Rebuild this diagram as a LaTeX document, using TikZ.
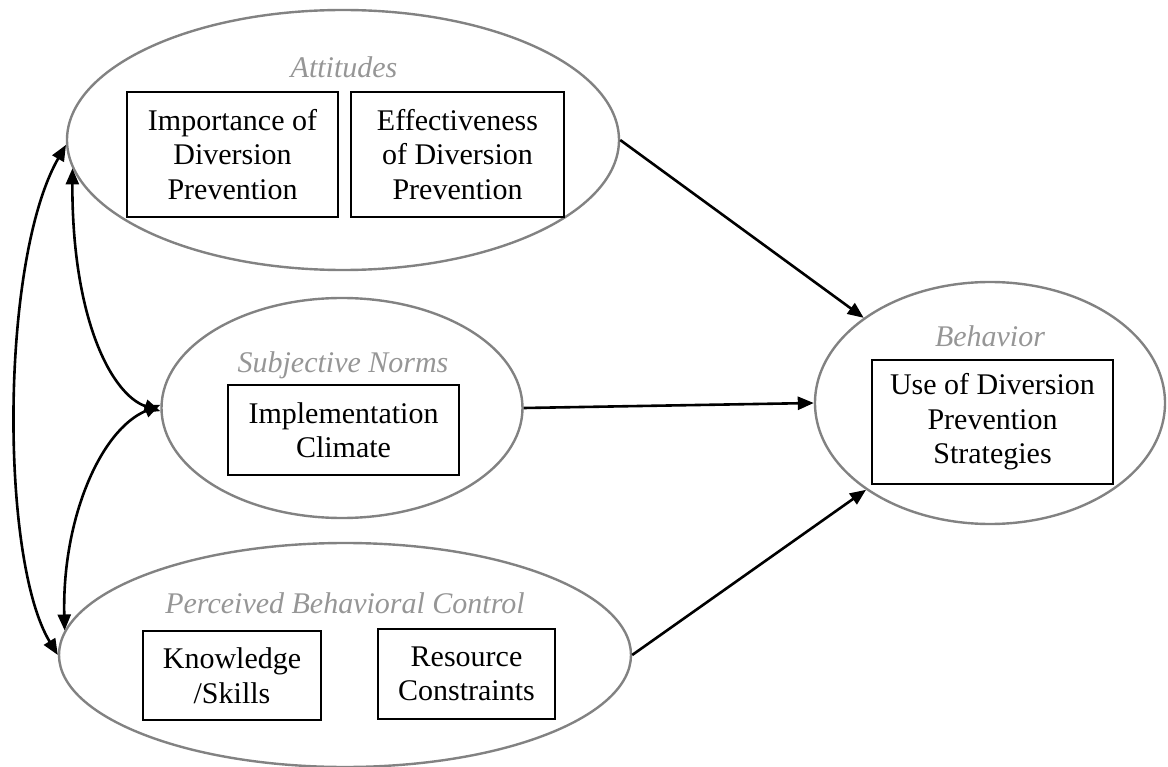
\documentclass[tikz,border=0pt]{standalone}
\usepackage{fontspec}
\setmainfont{Liberation Serif}
\usetikzlibrary{shapes.geometric,arrows.meta}
\definecolor{ellgray}{RGB}{130,130,130}
\definecolor{labgray}{RGB}{150,150,150}
\begin{document}
\begin{tikzpicture}[x=1pt,y=-1pt,
  ell/.style={draw=ellgray, line width=2.4pt, ellipse, inner sep=0pt},
  box/.style={draw=black, line width=2.8pt, rectangle, inner sep=0pt, align=center,
              font=\fontsize{30}{34.5}\selectfont},
  lab/.style={text=labgray, font=\fontsize{30}{34}\selectfont\itshape, anchor=base, inner sep=0pt},
  tipx/.tip={Triangle[length=16pt,width=13pt]},
  arr/.style={line width=2.6pt, -tipx},
  dbl/.style={line width=2.6pt, tipx-tipx}]
\useasboundingbox (0,0) rectangle (1168,767);
% ellipses
\node[ell, minimum width=552pt, minimum height=260pt] (att) at (343,140) {};
\node[ell, minimum width=361pt, minimum height=220pt] (sn)  at (342,408) {};
\node[ell, minimum width=572pt, minimum height=224pt] (pbc) at (345,655) {};
\node[ell, minimum width=350pt, minimum height=242pt] (beh) at (990,403) {};
% labels
\node[lab] (attl) at (344,78)  {Attitudes};
\node[lab] (snl)  at (343,373) {Subjective Norms};
\node[lab] (behl) at (990,347) {Behavior};
\node[lab] (pbcl) at (345,613) {Perceived Behavioral Control};
% boxes
\node[box, minimum width=211pt, minimum height=125pt] (imp) at (232.5,154.5) {Importance of\\Diversion\\Prevention};
\node[box, minimum width=213pt, minimum height=125pt] (eff) at (457.5,154.5) {Effectiveness\\of Diversion\\Prevention};
\node[box, minimum width=231pt, minimum height=90pt] (impl) at (343.5,430) {Implementation\\Climate};
\node[box, minimum width=241pt, minimum height=124pt] (use) at (992.5,422) {Use of Diversion\\Prevention\\Strategies};
\node[box, minimum width=178pt, minimum height=89pt] (know) at (232,675.5) {Knowledge\\/Skills};
\node[box, minimum width=177pt, minimum height=90pt] (res) at (466.5,674) {Resource\\Constraints};
% straight arrows
\draw[arr] (att.east) -- (beh.146);
\draw[arr] (sn.east) -- (beh.west);
\draw[arr] (pbc.east) -- (beh.215);
% curved double arrows
\draw[dbl] (att.181) .. controls (0,260) and (0,560) .. (pbc.west);
\draw[dbl] (att.186) .. controls (72,320) and (112,395) .. (sn.181);
\draw[dbl] (sn.179) .. controls (100,430) and (62,520) .. (pbc.175);
\end{tikzpicture}
\end{document}
